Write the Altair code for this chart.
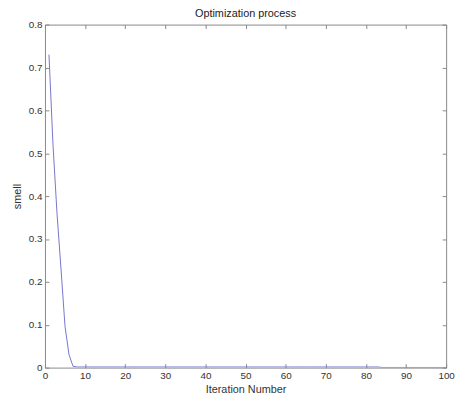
import altair as alt
import pandas as pd

iterations = list(range(1, 101))
smell = ([0.73, 0.52, 0.36, 0.23, 0.096, 0.03, 0.003]
         + [0.0015] * 76
         + [0.0003] * 17)
x_ticks = [0, 10, 20, 30, 40, 50, 60, 70, 80, 90, 100]
y_ticks = [0, 0.1, 0.2, 0.3, 0.4, 0.5, 0.6, 0.7, 0.8]

df = pd.DataFrame({"iter": iterations, "smell": smell})

W, H = 407, 348
FONT = "Liberation Sans"
AX = "#888888"
TXT = "#333333"

xs = alt.Scale(domain=[0, 100], nice=False, zero=False)
ys = alt.Scale(domain=[0, 0.8], nice=False)

common = dict(domain=False, grid=False, tickSize=4, tickColor=AX, tickWidth=1,
              offset=-4, labelFont=FONT, titleFont=FONT, labelColor=TXT,
              titleColor=TXT, labelFontSize=10, titleFontSize=11,
              titleFontWeight="normal", labelOverlap=False, labelFlush=False)

base = alt.Chart(df)

main = base.mark_line(color="#7676cc", strokeWidth=1, clip=True).encode(
    x=alt.X("iter:Q", scale=xs,
            axis=alt.Axis(orient="bottom", values=x_ticks, format="d",
                          title="Iteration Number", labelPadding=3,
                          titlePadding=3, **common)),
    y=alt.Y("smell:Q", scale=ys,
            axis=alt.Axis(orient="left", values=y_ticks, format=".1~f",
                          title="smell", labelPadding=3, titlePadding=6,
                          **common)),
)

frame = base.mark_line(opacity=0).encode(
    x=alt.X("iter:Q", scale=xs,
            axis=alt.Axis(orient="top", values=x_ticks, labels=False,
                          title=None, **common)),
    y=alt.Y("smell:Q", scale=ys,
            axis=alt.Axis(orient="right", values=y_ticks, labels=False,
                          title=None, **common)),
)

chart = (
    alt.layer(main, frame)
    .resolve_axis(x="independent", y="independent")
    .properties(
        width=W,
        height=H,
        title=alt.TitleParams("Optimization process", fontSize=11, font=FONT,
                              fontWeight="normal", offset=6, dy=5,
                              anchor="middle", color="#222222"),
        autosize=alt.AutoSizeParams(type="none"),
        padding={"left": 37.5, "top": 14, "right": 10, "bottom": 28},
        background="white",
    )
    .configure_view(stroke=AX, strokeWidth=1)
)

chart.save("out.html", embed_options={"renderer": "svg", "actions": False})
